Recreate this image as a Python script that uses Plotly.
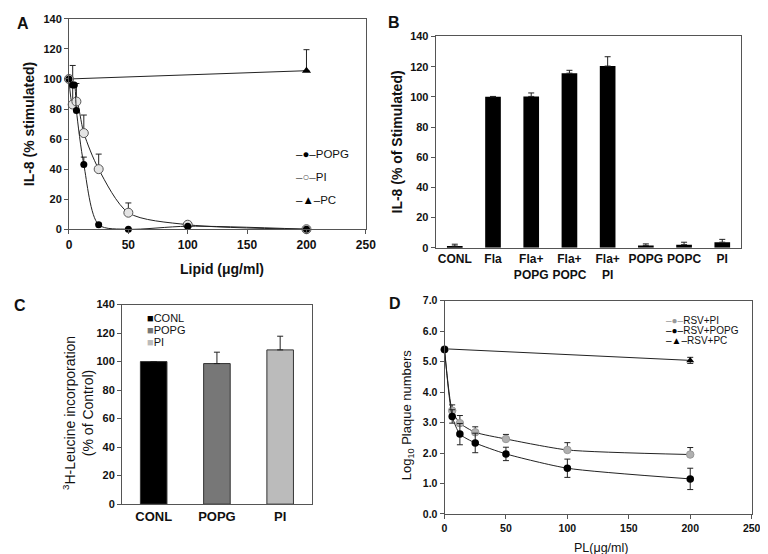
import plotly.graph_objects as go

# ---------------- Panel A data ----------------
a_popg_x = [0, 3.125, 4.5, 6.25, 12.5, 25, 50, 100, 200]
a_popg_y = [100, 96, 96, 79, 43, 3, 0, 2, 0]
a_popg_err = [0, 0, 1, 0, 5, 1, 0, 0, 0]
a_pi_x = [0, 3.125, 6.25, 12.5, 25, 50, 100, 200]
a_pi_y = [100, 83, 85, 64, 40, 11, 3, 0]
a_pi_err = [0, 26, 12, 12, 10, 6.5, 1.5, 0]
a_pc_x = [0, 200]
a_pc_y = [100, 105.5]
a_pc_err = [0, 14]

# ---------------- Panel B data ----------------
b_cats = ["CONL", "Fla", "Fla+<br>POPG", "Fla+<br>POPC", "Fla+<br>PI", "POPG", "POPC", "PI"]
b_vals = [1.2, 100, 100.3, 115.7, 120.4, 1.6, 2.1, 3.7]
b_err = [1.2, 0.3, 2.3, 1.9, 6.2, 1.0, 1.6, 1.9]

# ---------------- Panel C data ----------------
c_cats = ["CONL", "POPG", "PI"]
c_vals = [100, 98.6, 108.2]
c_err = [0, 8, 9.6]
c_colors = ["#000000", "#777777", "#bbbbbb"]

# ---------------- Panel D data ----------------
d_x = [0, 6.25, 12.5, 25, 50, 100, 200]
d_pi_y = [5.4, 3.39, 2.98, 2.68, 2.46, 2.1, 1.95]
d_pi_err = [0, 0.19, 0.25, 0.18, 0.15, 0.24, 0.23]
d_popg_y = [5.4, 3.2, 2.62, 2.33, 1.97, 1.5, 1.15]
d_popg_err = [0, 0.22, 0.35, 0.32, 0.22, 0.3, 0.35]
d_pc_x = [0, 200]
d_pc_y = [5.42, 5.04]
d_pc_err = [0, 0.1]

FONT = "Liberation Sans, Arial, sans-serif"
LINE = "#222222"
AXC = "#555555"

fig = go.Figure()

def err(arr, sym=False, minus=None):
    d = dict(type="data", array=arr, color="#222", thickness=1, width=3, visible=True)
    if sym:
        d["symmetric"] = True
    else:
        d["symmetric"] = False
        d["arrayminus"] = minus if minus is not None else [0] * len(arr)
    return d

# Panel A traces
fig.add_trace(go.Scatter(x=a_pc_x, y=a_pc_y, mode="lines+markers", name="PC",
                         line=dict(color=LINE, width=1),
                         marker=dict(symbol="triangle-up", size=8, color="#000"),
                         error_y=err(a_pc_err), cliponaxis=False, xaxis="x", yaxis="y", showlegend=False))
fig.add_trace(go.Scatter(x=a_pi_x, y=a_pi_y, mode="lines+markers", name="PI",
                         line=dict(color=LINE, width=1, shape="spline", smoothing=0.8),
                         marker=dict(symbol="circle", size=9, color="#e4e4e4", line=dict(color="#555", width=1)),
                         error_y=err(a_pi_err), cliponaxis=False, xaxis="x", yaxis="y", showlegend=False))
fig.add_trace(go.Scatter(x=a_popg_x, y=a_popg_y, mode="lines+markers", name="POPG",
                         line=dict(color=LINE, width=1, shape="spline", smoothing=0.8),
                         marker=dict(symbol="circle", size=7, color="#000"),
                         error_y=err(a_popg_err), cliponaxis=False, xaxis="x", yaxis="y", showlegend=False))

# Panel B
fig.add_trace(go.Bar(x=b_cats, y=b_vals, width=0.41, marker=dict(color="#000", line=dict(width=0)),
                     error_y=err(b_err), xaxis="x2", yaxis="y2", showlegend=False))

# Panel C
for cat, v, e, col in zip(c_cats, c_vals, c_err, c_colors):
    fig.add_trace(go.Bar(x=[cat], y=[v], width=0.42, name=cat,
                         marker=dict(color=col, line=dict(color="#333", width=1)),
                         error_y=err([e]), xaxis="x3", yaxis="y3", showlegend=False))

# Panel D
fig.add_trace(go.Scatter(x=d_pc_x, y=d_pc_y, mode="lines+markers", name="RSV+PC",
                         line=dict(color=LINE, width=1),
                         marker=dict(symbol="triangle-up", size=7, color="#000"),
                         error_y=err(d_pc_err, sym=True), cliponaxis=False, xaxis="x4", yaxis="y4", showlegend=False))
fig.add_trace(go.Scatter(x=d_x, y=d_pi_y, mode="lines+markers", name="RSV+PI",
                         line=dict(color=LINE, width=1, shape="spline", smoothing=0.6),
                         marker=dict(symbol="circle", size=7.5, color="#b0b0b0", line=dict(color="#999", width=1)),
                         error_y=err(d_pi_err), cliponaxis=False, xaxis="x4", yaxis="y4", showlegend=False))
fig.add_trace(go.Scatter(x=d_x, y=d_popg_y, mode="lines+markers", name="RSV+POPG",
                         line=dict(color=LINE, width=1, shape="spline", smoothing=0.6),
                         marker=dict(symbol="circle", size=7.5, color="#000"),
                         error_y=err(d_popg_err, sym=True), cliponaxis=False, xaxis="x4", yaxis="y4", showlegend=False))

bold11 = dict(family=FONT, size=11, color="#111", weight="bold")

def ax(**kw):
    base = dict(showline=True, linecolor=AXC, linewidth=1, mirror=True, showgrid=False,
                zeroline=False, ticks="outside", ticklen=4, tickcolor=AXC, tickfont=bold11)
    base.update(kw)
    return base

fig.update_layout(
    width=768, height=554, margin=dict(l=0, r=0, t=0, b=0),
    paper_bgcolor="white", plot_bgcolor="white",
    font=dict(family=FONT, color="#111"),
    bargap=0.5,
    xaxis=ax(domain=[0.0768, 0.470], range=[0, 250], tickvals=[0, 50, 100, 150, 200, 250], anchor="y",
             tickfont=dict(family=FONT, size=12, color="#111", weight="bold")),
    yaxis=ax(domain=[0.6029, 0.991], range=[0, 140], dtick=20, anchor="x"),
    xaxis2=ax(domain=[0.5625, 0.9674], type="category", anchor="y2", ticks="",
              tickfont=dict(family=FONT, size=12, color="#111", weight="bold")),
    yaxis2=ax(domain=[0.5686, 0.9585], range=[0, 140], dtick=20, anchor="x2"),
    xaxis3=ax(domain=[0.1471, 0.3984], type="category", anchor="y3", ticks="",
              tickfont=dict(family=FONT, size=13, color="#111", weight="bold")),
    yaxis3=ax(domain=[0.0957, 0.4639], range=[0, 140], dtick=20, anchor="x3"),
    xaxis4=ax(domain=[0.5742, 0.981], range=[0, 250], tickvals=[0, 50, 100, 150, 200, 250], anchor="y4",
              tickfont=dict(family=FONT, size=10.5, color="#111", weight="bold")),
    yaxis4=ax(domain=[0.0776, 0.4711], range=[0, 7], dtick=1, tickformat=".1f", anchor="x4",
              tickfont=dict(family=FONT, size=10.5, color="#111", weight="bold")),
)

def ann(text, x, y, size=13, bold=False, angle=0, xanchor="center", yanchor="middle", align="center"):
    fig.add_annotation(text=text, x=x / 768, y=1 - y / 554, xref="paper", yref="paper",
                       showarrow=False, textangle=angle, xanchor=xanchor, yanchor=yanchor, align=align,
                       font=dict(family=FONT, size=size, color="#111", weight="bold" if bold else "normal"))

# Panel letters
ann("A", 12, 10, size=16, bold=True)
ann("B", 390, 9, size=16, bold=True)
ann("C", 9, 298, size=16, bold=True)
ann("D", 391, 296, size=16, bold=True)

# Axis titles
ann("IL-8 (% stimulated)", 18, 113, size=14, bold=True, angle=-90)
ann("Lipid (μg/ml)", 215, 261, size=14, bold=True)
ann("IL-8 (% of Stimulated)", 393, 131, size=14, bold=True, angle=-90)
ann("<sup>3</sup>H-Leucine incorporation<br>(% of Control)", 68, 408, size=14, angle=-90)
ann("Log<sub>10</sub> Plaque numbers", 403, 410, size=13, angle=-90)
ann("PL(μg/ml)", 600, 546, size=12.5)

# Legends (as text)
ann("<span style='color:#000'>–●–</span>POPG", 288, 143, size=11.5, xanchor="left")
ann("<span style='color:#555'>–○–</span>PI", 288, 167, size=11.5, xanchor="left")
ann("<span style='color:#000'>–▲–</span>PC", 288, 190, size=11.5, xanchor="left")

ann("<span style='color:#000'>■</span>CONL", 136, 311, size=11, xanchor="left")
ann("<span style='color:#777'>■</span>POPG", 136, 323, size=11, xanchor="left")
ann("<span style='color:#bbb'>■</span>PI", 136, 335, size=11, xanchor="left")

ann("<span style='color:#999'>–●–</span>RSV+PI", 664, 313, size=10, xanchor="left")
ann("<span style='color:#000'>–●–</span>RSV+POPG", 664, 323.5, size=10, xanchor="left")
ann("<span style='color:#000'>–▲–</span>RSV+PC", 664, 334, size=10, xanchor="left")

fig.write_html("out.html")
